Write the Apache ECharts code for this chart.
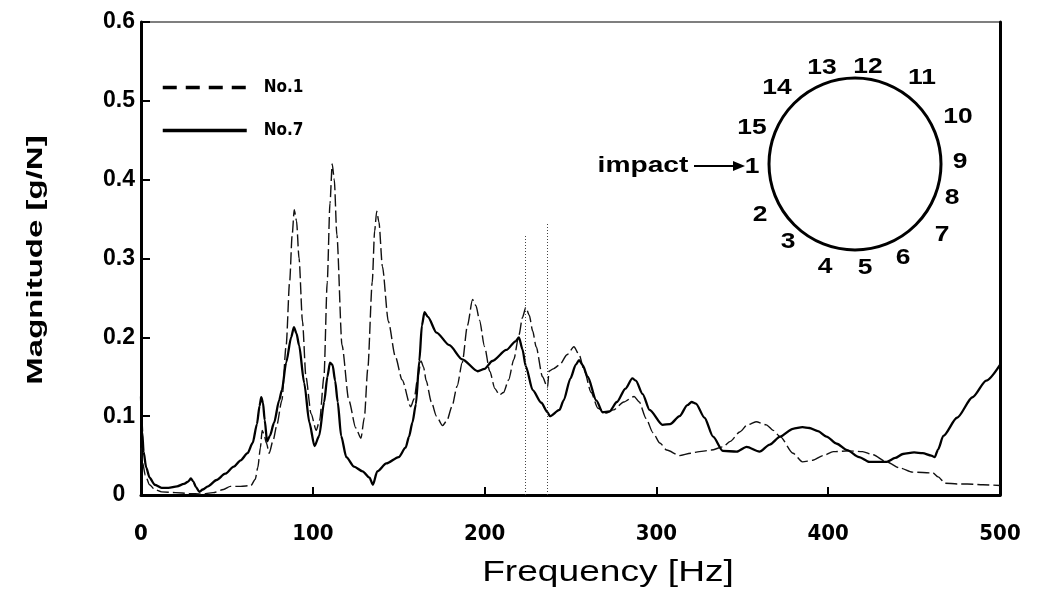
<!DOCTYPE html>
<html>
<head>
<meta charset="utf-8">
<script src="https://cdn.jsdelivr.net/npm/echarts@6/dist/echarts.min.js"></script>
<style>
  html, body { margin: 0; padding: 0; background: #fff; }
  #chart { width: 1051px; height: 599px; }
</style>
</head>
<body>
<div id="chart"></div>
<script>
// Frequency response magnitude at measuring points No.1 and No.7
const freqNo1 = [0, 1, 2.5, 5, 8, 12, 20, 28, 35, 42, 48, 52, 58, 64, 66.5, 68, 69.5, 70.5, 71.5, 73, 74.6, 77, 79, 82, 84.5, 86.5, 88, 89.2, 90.5, 92, 94, 96, 99, 102, 104, 106.5, 108.4, 110, 111.3, 112.5, 114, 117, 121, 125, 128, 130, 132, 134.6, 136, 137.2, 138.5, 140.5, 144, 148, 152, 157, 159, 161, 163, 164.5, 166, 169, 172, 175.5, 178, 181, 184, 187, 190, 193, 195, 197, 200, 203, 206, 208.6, 211, 214, 217, 220, 222, 224, 226, 228, 230, 233.7, 236.6, 237.5, 240, 243.6, 248, 252, 255, 258, 262, 266, 271, 275, 281, 287, 290, 294, 298, 302, 306, 313.5, 320, 325, 332, 338.6, 343, 348.5, 353, 358, 364, 368, 372, 379.5, 385, 391, 397, 403, 412, 420, 426, 434, 442, 449, 461, 464, 468, 475, 481, 490, 500];
const magNo1 = [0.06, 0.04, 0.025, 0.013, 0.007, 0.004, 0.003, 0.002, 0.001, 0.003, 0.007, 0.011, 0.011, 0.012, 0.02, 0.035, 0.06, 0.082, 0.078, 0.066, 0.053, 0.07, 0.088, 0.12, 0.19, 0.27, 0.33, 0.362, 0.348, 0.3, 0.22, 0.15, 0.103, 0.082, 0.095, 0.15, 0.27, 0.37, 0.42, 0.4, 0.33, 0.19, 0.12, 0.085, 0.072, 0.098, 0.16, 0.27, 0.335, 0.36, 0.346, 0.29, 0.22, 0.176, 0.146, 0.112, 0.122, 0.148, 0.17, 0.162, 0.145, 0.118, 0.1, 0.088, 0.094, 0.112, 0.138, 0.168, 0.215, 0.248, 0.24, 0.222, 0.188, 0.157, 0.135, 0.127, 0.13, 0.146, 0.172, 0.203, 0.225, 0.238, 0.228, 0.208, 0.188, 0.15, 0.136, 0.157, 0.16, 0.165, 0.178, 0.188, 0.178, 0.158, 0.13, 0.11, 0.104, 0.108, 0.118, 0.125, 0.118, 0.097, 0.079, 0.066, 0.057, 0.05, 0.053, 0.055, 0.057, 0.061, 0.068, 0.08, 0.089, 0.093, 0.089, 0.082, 0.074, 0.053, 0.042, 0.044, 0.05, 0.055, 0.056, 0.055, 0.051, 0.042, 0.034, 0.029, 0.028, 0.023, 0.015, 0.014, 0.014, 0.013, 0.012];

const freqNo7 = [0, 0.7, 1.5, 3, 5, 8, 12, 16, 21, 25, 27.5, 29, 30.5, 32, 34, 36, 39, 44, 49, 54, 58, 62, 65, 67.5, 69, 70, 71, 72, 73.4, 75, 77.5, 80.4, 82, 84.5, 87.4, 89, 90.5, 92, 95, 98, 101, 103.7, 106.6, 108.5, 110, 111.5, 113, 114.5, 116.5, 119.5, 124, 129, 133, 135, 137.5, 142.8, 150, 154, 156, 158, 160, 162, 163.5, 165, 167, 172, 179.5, 187, 196, 200, 204.5, 212.7, 218, 220, 222, 224, 228, 233, 236.6, 238, 243.6, 246, 250, 253, 255, 257, 260, 265, 268.7, 272.7, 277, 282, 286, 288, 292, 296, 303.6, 308, 313.5, 318, 320.5, 323, 328, 333, 338.6, 346.7, 352.5, 360, 366, 372, 379.5, 385, 389, 394, 399, 405, 411, 418, 424, 434, 439, 443.5, 450, 455, 460, 462, 464, 467, 475, 484, 492, 500];
const magNo7 = [0.125, 0.08, 0.055, 0.035, 0.022, 0.013, 0.009, 0.009, 0.011, 0.014, 0.017, 0.021, 0.017, 0.01, 0.004, 0.007, 0.011, 0.019, 0.027, 0.036, 0.044, 0.053, 0.066, 0.09, 0.113, 0.124, 0.117, 0.095, 0.068, 0.075, 0.092, 0.12, 0.133, 0.168, 0.2, 0.213, 0.205, 0.19, 0.142, 0.092, 0.062, 0.075, 0.118, 0.15, 0.168, 0.165, 0.145, 0.118, 0.075, 0.048, 0.036, 0.03, 0.022, 0.013, 0.03, 0.04, 0.048, 0.06, 0.074, 0.092, 0.115, 0.17, 0.215, 0.232, 0.226, 0.206, 0.19, 0.172, 0.157, 0.16, 0.17, 0.184, 0.195, 0.2, 0.185, 0.163, 0.133, 0.117, 0.105, 0.1, 0.108, 0.12, 0.148, 0.165, 0.171, 0.165, 0.15, 0.12, 0.105, 0.106, 0.118, 0.135, 0.148, 0.145, 0.128, 0.108, 0.089, 0.09, 0.1, 0.114, 0.118, 0.116, 0.098, 0.074, 0.056, 0.055, 0.061, 0.055, 0.064, 0.074, 0.084, 0.086, 0.085, 0.081, 0.074, 0.065, 0.057, 0.048, 0.042, 0.042, 0.047, 0.052, 0.054, 0.053, 0.05, 0.048, 0.058, 0.075, 0.098, 0.124, 0.145, 0.165];

// Analyzer cursor lines (frequency, height)
const cursorFreqs = [223.8, 236.6];
const cursorTops = [0.33, 0.346];

// Axis ranges and ticks
const xTicks = { min: 0, max: 500, step: 100 };
const yTicks = { min: 0, max: 0.6, step: 0.1 };

// Axis titles and measuring point numbers around the ring (inset sketch)
const xTitle = 'Frequency [Hz]';
const yTitle = 'Magnitude [g/N]';
const pointLabels = ['1', '2', '3', '4', '5', '6', '7', '8', '9', '10', '11', '12', '13', '14', '15'];

const pairs = (xs, ys) => xs.map((x, i) => [x, ys[i]]);

const SANS = 'Liberation Sans, Arial, sans-serif';
const COND = 'DejaVu Sans Condensed, sans-serif';

// inset: ring centre, radius and label placement
const ring = { cx: 855, cy: 164, r: 86 };
const labelSpots = [
  [752, 167], [760, 215], [788, 242], [825, 267], [865, 268], [903, 258], [942, 235],
  [952, 198], [960, 162], [958, 117], [922, 78], [868, 67], [822, 68], [777, 88], [752, 128]
];

const txt = (x, y, text, font, extra) => Object.assign({
  type: 'text', x: x, y: y,
  style: { text: text, font: font, fill: '#000', textAlign: 'center', textVerticalAlign: 'middle' }
}, extra || {});

const graphics = [
  { type: 'circle', shape: { cx: ring.cx, cy: ring.cy, r: ring.r },
    style: { fill: 'none', stroke: '#000', lineWidth: 3 }, silent: true },
  txt(643, 166, 'impact', 'bold 22px ' + SANS, { scaleX: 1.28 }),
  { type: 'line', shape: { x1: 694, y1: 166, x2: 734, y2: 166 }, style: { stroke: '#000', lineWidth: 2.2 } },
  { type: 'polygon', shape: { points: [[733, 161], [745, 166], [733, 171]] }, style: { fill: '#000' } },
  // axis titles, drawn widely spaced
  txt(608, 573, xTitle, '29px ' + SANS, { scaleX: 1.28 }),
  txt(36, 260, yTitle, 'bold 22px ' + SANS, { rotation: Math.PI / 2, scaleX: 1.5 })
].concat(pointLabels.map((t, i) =>
  txt(labelSpots[i][0], labelSpots[i][1], t, 'bold 22px ' + SANS, { scaleX: 1.2 })
));

const chart = echarts.init(document.getElementById('chart'), null, { renderer: 'canvas' });
chart.setOption({
  animation: false,
  backgroundColor: '#fff',
  grid: { left: 141, right: 51, top: 22, bottom: 104, show: true, borderColor: '#000', borderWidth: 1.2 },
  legend: {
    orient: 'vertical', left: 156, top: 74, itemWidth: 84, itemHeight: 14, itemGap: 26,
    itemStyle: { opacity: 0 },
    textStyle: { fontSize: 17, fontFamily: COND, fontWeight: 'bold', color: '#000', padding: [0, 0, 0, 12] },
    data: [
      { name: 'No.1', lineStyle: { type: [14, 9], width: 3.5, color: '#000' } },
      { name: 'No.7', lineStyle: { type: 'solid', width: 3.5, color: '#000' } }
    ]
  },
  xAxis: {
    type: 'value', min: xTicks.min, max: xTicks.max, interval: xTicks.step,
    axisLine: { lineStyle: { color: '#000', width: 3 } },
    axisTick: { inside: true, length: 8, lineStyle: { color: '#000', width: 2 } },
    axisLabel: { fontSize: 22, fontFamily: COND, fontWeight: 'bold', color: '#000', margin: 28 },
    splitLine: { show: false }
  },
  yAxis: [
    {
      type: 'value', min: yTicks.min, max: yTicks.max, interval: yTicks.step,
      axisLine: { show: true, lineStyle: { color: '#000', width: 3 } },
      axisTick: { show: true, inside: true, length: 9, lineStyle: { color: '#000', width: 2 } },
      axisLabel: { fontSize: 23, fontFamily: SANS, fontWeight: 'bold', color: '#000', margin: 22, align: 'center',
        formatter: v => (Math.round(v * 10) / 10).toString() },
      splitLine: { show: false }
    },
    {
      type: 'value', position: 'right', min: yTicks.min, max: yTicks.max, interval: yTicks.step,
      axisLine: { show: true, lineStyle: { color: '#000', width: 3 } },
      axisTick: { show: false }, axisLabel: { show: false }, splitLine: { show: false }
    }
  ],
  series: [
    {
      name: 'No.1', type: 'line', data: pairs(freqNo1, magNo1),
      showSymbol: false, symbol: 'none', smooth: 0.25, smoothMonotone: 'x',
      itemStyle: { color: '#000' },
      lineStyle: { color: '#111', width: 1.4, type: [12, 4] },
      markLine: {
        silent: true, symbol: 'none', label: { show: false },
        lineStyle: { color: '#444', width: 1, type: [1, 2] },
        data: cursorFreqs.map((f, i) => [{ coord: [f, 0] }, { coord: [f, cursorTops[i]] }])
      }
    },
    {
      name: 'No.7', type: 'line', data: pairs(freqNo7, magNo7),
      showSymbol: false, symbol: 'none', smooth: 0.25, smoothMonotone: 'x',
      itemStyle: { color: '#000' },
      lineStyle: { color: '#000', width: 2.3 }
    }
  ],
  graphic: graphics
});
</script>
</body>
</html>
